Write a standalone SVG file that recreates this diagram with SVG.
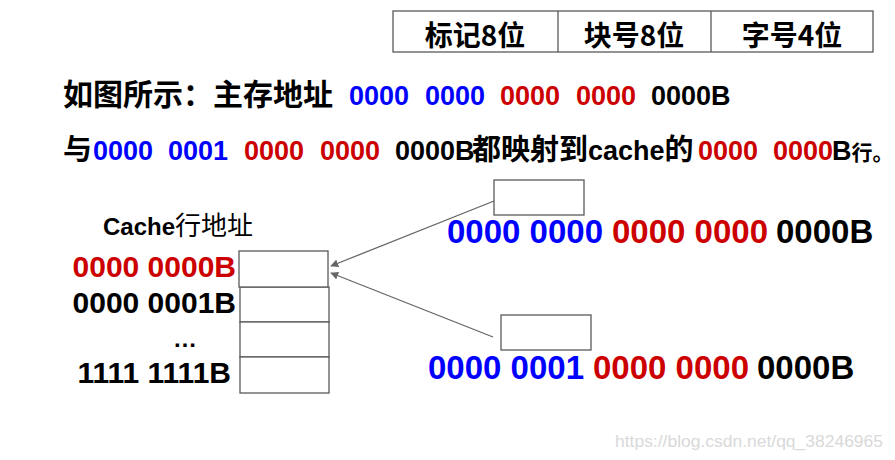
<svg xmlns="http://www.w3.org/2000/svg" width="895" height="460" viewBox="0 0 895 460">
<style>
.box{fill:#fff;stroke:#595959;stroke-width:1.3}
.cjk{font-family:"Noto Sans CJK SC","Liberation Sans",sans-serif}
.num{font-family:"Liberation Sans","Noto Sans CJK SC",sans-serif}
.b{fill:#0000ff}.r{fill:#cc0000}.k{fill:#000}
.conn{stroke:#666;stroke-width:1.3;fill:none}
</style>
<defs>
<marker id="ah" viewBox="0 0 10 10" refX="9" refY="5" markerWidth="8" markerHeight="8" orient="auto" markerUnits="userSpaceOnUse">
<path d="M0,0 L10,5 L0,10 z" fill="#666"/>
</marker>
</defs>
<rect width="895" height="460" fill="#fff"/>

<g id="field-table">
<rect class="box" x="393" y="11" width="480" height="41"/>
<line class="box" x1="558" y1="11" x2="558" y2="52"/>
<line class="box" x1="711" y1="11" x2="711" y2="52"/>
<text class="cjk" x="475" y="46" font-size="28" font-weight="bold" text-anchor="middle">标记8位</text>
<text class="cjk" x="634" y="46" font-size="28" font-weight="bold" text-anchor="middle">块号8位</text>
<text class="cjk" x="792" y="46" font-size="28" font-weight="bold" text-anchor="middle">字号4位</text>
</g>

<g id="line1" font-weight="bold">
<text class="cjk k" x="63" y="105" font-size="30">如图所示：主存地址</text>
<text class="num b" font-size="27" y="105"><tspan x="349">0000</tspan><tspan x="425">0000</tspan></text>
<text class="num r" font-size="27" y="105"><tspan x="500">0000</tspan><tspan x="576">0000</tspan></text>
<text class="num k" font-size="27" y="105" x="651">0000B</text>
</g>

<g id="line2" font-weight="bold">
<text class="cjk k" x="63" y="160" font-size="29">与</text>
<text class="num b" font-size="27" y="160"><tspan x="93">0000</tspan><tspan x="168">0001</tspan></text>
<text class="num r" font-size="27" y="160"><tspan x="244">0000</tspan><tspan x="320">0000</tspan></text>
<text class="num k" font-size="27" y="160" x="395">0000B</text>
<text class="cjk k" font-size="29" y="160" x="472">都映射到<tspan class="num" font-size="27">cache</tspan>的</text>
<text class="num r" font-size="27" y="160"><tspan x="698">0000</tspan><tspan x="773">0000</tspan></text>
<text class="num k" font-size="27" y="160" x="832">B<tspan class="cjk" font-size="21">行。</tspan></text>
</g>

<g id="cache-label">
<text x="103" y="235" font-size="24"><tspan class="num" font-weight="bold">Cache</tspan><tspan class="cjk" font-size="26">行地址</tspan></text>
</g>

<g id="cache-rows" font-weight="bold">
<text class="num r" x="236" y="277" font-size="30" text-anchor="end">0000 0000B</text>
<text class="num k" x="236" y="313" font-size="30" text-anchor="end">0000 0001B</text>
<text class="num k" x="185" y="347" font-size="24" text-anchor="middle">…</text>
<text class="num k" x="231" y="383" font-size="30" text-anchor="end">1111 1111B</text>
</g>

<g id="cache-lines">
<rect class="box" x="240" y="287" width="89" height="35"/>
<rect class="box" x="240" y="322" width="89" height="35"/>
<rect class="box" x="240" y="357" width="89" height="36"/>
<rect class="box" x="239" y="251" width="89" height="36"/>
</g>

<g id="tag-box-1"><rect class="box" x="494" y="180" width="90" height="35"/></g>
<g id="tag-box-2"><rect class="box" x="501" y="315" width="90" height="35"/></g>

<g id="addr-1" font-weight="bold" font-size="33">
<text class="num b" x="447" y="243">0000 0000</text>
<text class="num r" x="612" y="243">0000 0000</text>
<text class="num k" x="776" y="243">0000B</text>
</g>
<g id="addr-2" font-weight="bold" font-size="33">
<text class="num b" x="428" y="379">0000 0001</text>
<text class="num r" x="593" y="379">0000 0000</text>
<text class="num k" x="757" y="379">0000B</text>
</g>

<g id="connectors">
<line class="conn" x1="494" y1="201" x2="331" y2="266" marker-end="url(#ah)"/>
<line class="conn" x1="493" y1="337" x2="331" y2="273" marker-end="url(#ah)"/>
</g>

<text class="num" x="615" y="447" font-size="16" fill="#d9d9d9" textLength="268" lengthAdjust="spacingAndGlyphs">https://blog.csdn.net/qq_38246965</text>
</svg>
